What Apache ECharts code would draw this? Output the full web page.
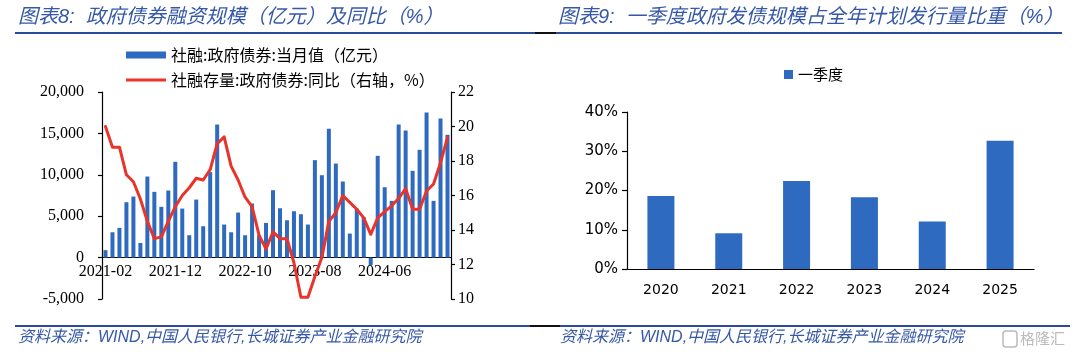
<!DOCTYPE html>
<html><head><meta charset="utf-8">
<script src="https://cdn.jsdelivr.net/npm/echarts@6/dist/echarts.min.js"></script>
<style>html,body{margin:0;padding:0;background:#fff}#c{width:1080px;height:359px}</style>
</head><body><div id="c"></div>
<script>
const months = ['2021-02','2021-03','2021-04','2021-05','2021-06','2021-07','2021-08','2021-09','2021-10','2021-11','2021-12',
 '2022-01','2022-02','2022-03','2022-04','2022-05','2022-06','2022-07','2022-08','2022-09','2022-10','2022-11','2022-12',
 '2023-01','2023-02','2023-03','2023-04','2023-05','2023-06','2023-07','2023-08','2023-09','2023-10','2023-11','2023-12',
 '2024-01','2024-02','2024-03','2024-04','2024-05','2024-06','2024-07','2024-08','2024-09','2024-10','2024-11','2024-12',
 '2025-01','2025-02','2025-03'];
const govBondMonthly = [900,3060,3590,6690,7370,1770,9790,7940,6130,8100,11570,
 5920,2700,7010,3790,10320,16080,3990,3060,5440,2700,6530,2700,
 4190,8140,5960,4510,5600,5240,3990,11770,9950,15560,11360,9190,
 2900,5920,4880,-890,12290,8500,6850,16080,15350,10480,13020,17530,
 6850,16800,14830];
const govBondYoY = [20.0,18.8,18.8,17.2,16.8,15.8,14.5,13.5,13.6,14.5,15.35,
 16.0,16.45,17.0,16.9,17.5,19.0,19.4,17.7,16.9,15.9,15.35,13.7,
 12.9,13.9,13.5,13.5,12.1,10.1,10.1,11.3,12.4,14.5,15.0,16.0,
 15.6,15.2,14.7,13.75,14.7,15.06,15.4,15.84,16.4,15.2,15.2,16.26,
 16.67,17.9,19.37];
const years = ['2020','2021','2022','2023','2024','2025'];
const q1Share = [18.6,9.1,22.4,18.3,12.1,32.7];
const leftMin = -5000, leftMax = 20000, leftStep = 5000;
const rightMin = 10, rightMax = 22, rightStep = 2;

const nameBar = '社融:政府债券:当月值（亿元）';
const nameLine = '社融存量:政府债券:同比（右轴，%）';
const nameQ1 = '一季度';

const serif = "'Liberation Serif','Noto Sans CJK SC',serif";
const cjk = "'Noto Sans CJK SC',sans-serif";
const titleFont = "italic 20px 'Liberation Sans','Noto Sans CJK SC',sans-serif";
const srcFont = "italic 16px 'Liberation Sans','Noto Sans CJK SC',sans-serif";
const blue = '#2e6abf';
const navy = '#2b4a9c';

const g0 = {left:102, top:92, width:349, height:207};
// x axis sits at the value 0 of the left axis
const zeroOffset = -g0.height * (0 - leftMin) / (leftMax - leftMin);

const chart = echarts.init(document.getElementById('c'));
const axisBlack = {color:'#000', width:1.2};
chart.setOption({
  animation:false,
  grid:[g0,{left:627, top:112, width:407, height:157}],
  legend:[
    {data:[nameBar], left:126, top:47, padding:0, itemWidth:40, itemHeight:7, icon:'rect',
     textStyle:{fontFamily:cjk, fontSize:16, color:'#000'}},
    {data:[nameLine], left:126, top:72, padding:0, itemWidth:40, itemHeight:3, icon:'rect',
     textStyle:{fontFamily:cjk, fontSize:16, color:'#000'}},
    {data:[nameQ1], left:784, top:67, padding:0, itemWidth:9, itemHeight:9, icon:'rect',
     textStyle:{fontFamily:cjk, fontSize:15, color:'#000'}}
  ],
  xAxis:[
    {type:'category', gridIndex:0, data:months, boundaryGap:true, position:'bottom', offset:zeroOffset,
     axisLine:{onZero:false, lineStyle:axisBlack},
     axisTick:{interval:9, length:5, lineStyle:axisBlack},
     axisLabel:{interval:9, margin:6, fontFamily:serif, fontSize:16, color:'#000'}},
    {type:'category', gridIndex:1, data:years, boundaryGap:true,
     axisLine:{lineStyle:axisBlack}, axisTick:{length:5, lineStyle:axisBlack},
     axisLabel:{margin:14, fontFamily:"'DejaVu Sans',sans-serif", fontSize:14, color:'#000'}}
  ],
  yAxis:[
    {type:'value', gridIndex:0, min:leftMin, max:leftMax, interval:leftStep, splitLine:{show:false},
     axisLine:{show:true, lineStyle:axisBlack}, axisTick:{show:true, length:4, lineStyle:axisBlack},
     axisLabel:{margin:18, fontFamily:serif, fontSize:16, color:'#000', formatter:v=>v.toLocaleString('en-US')}},
    {type:'value', gridIndex:0, position:'right', min:rightMin, max:rightMax, interval:rightStep, splitLine:{show:false},
     axisLine:{show:true, lineStyle:axisBlack}, axisTick:{show:true, length:4, lineStyle:axisBlack},
     axisLabel:{margin:7, fontFamily:serif, fontSize:16, color:'#000'}},
    {type:'value', gridIndex:1, min:0, max:40, interval:10, splitLine:{show:false},
     axisLine:{show:true, lineStyle:axisBlack}, axisTick:{show:true, length:5, lineStyle:axisBlack},
     axisLabel:{margin:9, fontFamily:"'DejaVu Sans',sans-serif", fontSize:15, color:'#000', formatter:'{value}%'}}
  ],
  series:[
    {name:nameBar, type:'bar', xAxisIndex:0, yAxisIndex:0, data:govBondMonthly, barWidth:4,
     itemStyle:{color:blue}},
    {name:nameLine, type:'line', xAxisIndex:0, yAxisIndex:1, data:govBondYoY, showSymbol:false, symbol:'none',
     itemStyle:{color:'#e8342b'}, lineStyle:{color:'#e8342b', width:3, join:'round', cap:'round'}},
    {name:nameQ1, type:'bar', xAxisIndex:1, yAxisIndex:2, data:q1Share, barWidth:27,
     itemStyle:{color:blue}}
  ],
  graphic:[
    {type:'text', left:18, top:7, style:{text:'图表8:  政府债券融资规模（亿元）及同比（%）', font:titleFont, fill:'#3558a8'}},
    {type:'text', left:558, top:7, style:{text:'图表9:  一季度政府发债规模占全年计划发行量比重（%）', font:titleFont, fill:'#3558a8'}},
    {type:'line', shape:{x1:15, y1:33, x2:535, y2:33}, style:{stroke:navy, lineWidth:2}},
    {type:'line', shape:{x1:535, y1:33, x2:556, y2:33}, style:{stroke:'#111', lineWidth:2}},
    {type:'line', shape:{x1:556, y1:33, x2:1062, y2:33}, style:{stroke:navy, lineWidth:2}},
    {type:'line', shape:{x1:15, y1:326, x2:530, y2:326}, style:{stroke:navy, lineWidth:2}},
    {type:'line', shape:{x1:530, y1:326, x2:560, y2:326}, style:{stroke:'#111', lineWidth:2}},
    {type:'line', shape:{x1:560, y1:326, x2:1070, y2:326}, style:{stroke:navy, lineWidth:2}},
    {type:'text', left:18, top:330, style:{text:'资料来源：WIND,中国人民银行,长城证券产业金融研究院', font:srcFont, fill:'#3558a8'}},
    {type:'text', left:560, top:330, style:{text:'资料来源：WIND,中国人民银行,长城证券产业金融研究院', font:srcFont, fill:'#3558a8'}},
    {type:'rect', shape:{x:1003, y:331, width:14, height:16, r:3}, style:{fill:'none', stroke:'#bbb', lineWidth:1.5}},
    {type:'text', left:1020, top:331, style:{text:'格隆汇', font:"15px 'Noto Sans CJK SC',sans-serif", fill:'#bbb'}}
  ]
});
</script></body></html>
